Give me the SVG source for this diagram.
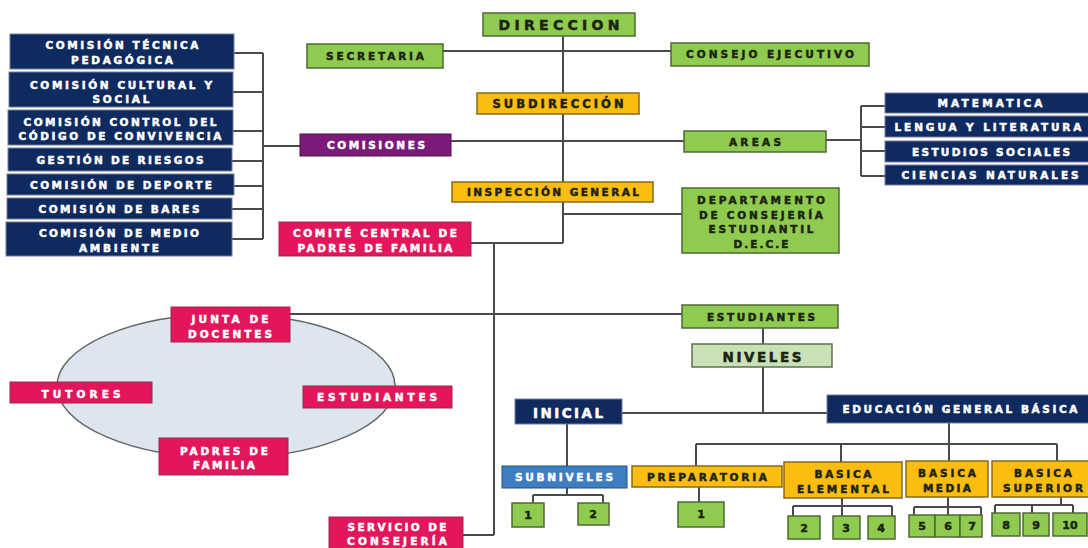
<svg xmlns="http://www.w3.org/2000/svg" width="1088" height="548" viewBox="0 0 1088 548">
<style>
text{font-family:"DejaVu Sans","Liberation Sans",sans-serif;font-weight:bold;text-anchor:middle;font-size:10.5px;stroke-width:0.5}
.w{fill:#ffffff;stroke:#ffffff}
.d{fill:#1c2410;stroke:#1c2410}
.n{fill:#0f2a5f;stroke:#6f7fa0;stroke-width:1}
.g{fill:#8fcb4f;stroke:#4d6a33;stroke-width:1.5}
.a{fill:#fbbd10;stroke:#8a6a1a;stroke-width:1.5}
.p{fill:#e3155b;stroke:#9a2a4a;stroke-width:1}
.pu{fill:#7c1a79;stroke:#4a1048;stroke-width:1}
.lg{fill:#c8e2b6;stroke:#5e7050;stroke-width:1.5}
.b{fill:#3d7ec2;stroke:#2a4f7a;stroke-width:1}
.c{fill:none;stroke:#4a4a4a;stroke-width:2}
.num{font-size:11px}
</style>
<g id="ellipse"><ellipse cx="226" cy="386" rx="169" ry="72" fill="#dde5ef" stroke="#666" stroke-width="1.5"/></g>
<g id="connectors" class="c">
<path d="M234,53H263M233,92H263M233,131H263M232,161H263M234,186H263M232,209H263M232,239H263M263,53V239M263,146H300"/>
<path d="M443,51H671"/>
<path d="M451,141H684"/>
<path d="M563,36V243M563,214H682M471,243H563M494,243V535M463,535H494"/>
<path d="M290,314H682"/>
<path d="M826,140H861M861,106V176M861,106H885M861,127H885M861,151H885M861,176H885"/>
<path d="M763,328V344M763,367V413M622,413H827"/>
<path d="M567,424V466M567,488V495M533,495H603M533,495V503M603,495V503"/>
<path d="M949,423V461M696,444H1057M696,444V466M841,444V462M1057,444V461"/>
<path d="M699,487V502"/>
<path d="M842,498V516M793,506H892M793,506V516M892,506V516"/>
<path d="M948,497V515M914,507H981M914,507V515M981,507V515"/>
<path d="M1061,497V505M995,505H1073M995,505V513M1032,505V513M1073,505V513"/>
</g>
<g id="com1"><rect class="n" x="10" y="34" width="224" height="35"/><text class="w" x="122" y="49" textLength="153">COMISIÓN TÉCNICA</text><text class="w" x="122" y="64" textLength="102">PEDAGÓGICA</text></g>
<g id="com2"><rect class="n" x="9" y="72" width="224" height="35"/><text class="w" x="121" y="89" textLength="182">COMISIÓN CULTURAL Y</text><text class="w" x="121" y="103" textLength="57">SOCIAL</text></g>
<g id="com3"><rect class="n" x="8" y="110" width="225" height="35"/><text class="w" x="120" y="126" textLength="193">COMISIÓN CONTROL DEL</text><text class="w" x="120" y="140" textLength="203">CÓDIGO DE CONVIVENCIA</text></g>
<g id="com4"><rect class="n" x="8" y="148" width="224" height="23"/><text class="w" x="120" y="164" textLength="167">GESTIÓN DE RIESGOS</text></g>
<g id="com5"><rect class="n" x="7" y="174" width="227" height="21"/><text class="w" x="121" y="189" textLength="182">COMISIÓN DE DEPORTE</text></g>
<g id="com6"><rect class="n" x="7" y="198" width="225" height="21"/><text class="w" x="119" y="213" textLength="161">COMISIÓN DE BARES</text></g>
<g id="com7"><rect class="n" x="6" y="222" width="226" height="34"/><text class="w" x="119" y="237" textLength="160">COMISIÓN DE MEDIO</text><text class="w" x="119" y="252" textLength="80">AMBIENTE</text></g>
<g id="secretaria"><rect class="g" x="307" y="44" width="136" height="24"/><text class="d" x="375" y="60" textLength="98">SECRETARIA</text></g>
<g id="comisiones"><rect class="pu" x="300" y="134" width="151" height="22"/><text class="w" x="376" y="149" textLength="98">COMISIONES</text></g>
<g id="comite"><rect class="p" x="279" y="222" width="192" height="34"/><text class="w" x="375" y="237" textLength="164">COMITÉ CENTRAL DE</text><text class="w" x="375" y="252" textLength="155">PADRES DE FAMILIA</text></g>
<g id="direccion"><rect class="g" x="483" y="13" width="152" height="23"/><text class="d" x="559" y="30" style="font-size:14px" textLength="121">DIRECCION</text></g>
<g id="consejo"><rect class="g" x="671" y="43" width="198" height="23"/><text class="d" x="770" y="58" textLength="168">CONSEJO EJECUTIVO</text></g>
<g id="subdireccion"><rect class="a" x="477" y="93" width="162" height="21"/><text class="d" x="558" y="108" style="font-size:11.5px" textLength="131">SUBDIRECCIÓN</text></g>
<g id="areas"><rect class="g" x="684" y="131" width="142" height="21"/><text class="d" x="755" y="146" textLength="52">AREAS</text></g>
<g id="inspeccion"><rect class="a" x="452" y="182" width="201" height="20"/><text class="d" x="553" y="196" textLength="172">INSPECCIÓN GENERAL</text></g>
<g id="dece"><rect class="g" x="682" y="188" width="157" height="65"/><text class="d" x="761" y="204" textLength="128">DEPARTAMENTO</text><text class="d" x="761" y="219" textLength="124">DE CONSEJERÍA</text><text class="d" x="761" y="233" textLength="105">ESTUDIANTIL</text><text class="d" x="761" y="248" textLength="55">D.E.C.E</text></g>
<g id="matematica"><rect class="n" x="885" y="93" width="205" height="20"/><text class="w" x="990" y="107" textLength="105">MATEMATICA</text></g>
<g id="lengua"><rect class="n" x="885" y="116" width="205" height="21"/><text class="w" x="988" y="131" textLength="187">LENGUA Y LITERATURA</text></g>
<g id="sociales"><rect class="n" x="885" y="141" width="205" height="21"/><text class="w" x="991" y="156" textLength="158">ESTUDIOS SOCIALES</text></g>
<g id="naturales"><rect class="n" x="885" y="165" width="205" height="20"/><text class="w" x="990" y="179" textLength="177">CIENCIAS NATURALES</text></g>
<g id="junta"><rect class="p" x="171" y="307" width="119" height="35"/><text class="w" x="230" y="323" textLength="77">JUNTA DE</text><text class="w" x="230" y="338" textLength="84">DOCENTES</text></g>
<g id="tutores"><rect class="p" x="10" y="382" width="142" height="21"/><text class="w" x="81" y="398" textLength="79">TUTORES</text></g>
<g id="estudiantes-p"><rect class="p" x="303" y="386" width="149" height="22"/><text class="w" x="377" y="401" textLength="120">ESTUDIANTES</text></g>
<g id="padres"><rect class="p" x="159" y="438" width="129" height="37"/><text class="w" x="224" y="455" textLength="88">PADRES DE</text><text class="w" x="224" y="469" textLength="62">FAMILIA</text></g>
<g id="servicio"><rect class="p" x="329" y="517" width="134" height="40"/><text class="w" x="397" y="531" textLength="99">SERVICIO DE</text><text class="w" x="397" y="545" textLength="100">CONSEJERÍA</text></g>
<g id="estudiantes-g"><rect class="g" x="682" y="305" width="156" height="23"/><text class="d" x="761" y="321" textLength="108">ESTUDIANTES</text></g>
<g id="niveles"><rect class="lg" x="692" y="344" width="140" height="23"/><text class="d" x="762" y="362" style="font-size:13.5px" textLength="79">NIVELES</text></g>
<g id="inicial"><rect class="n" x="515" y="399" width="107" height="25"/><text class="w" x="568" y="418" style="font-size:13.5px" textLength="70">INICIAL</text></g>
<g id="egb"><rect class="n" x="827" y="395" width="263" height="28"/><text class="w" x="960" y="413" textLength="235">EDUCACIÓN GENERAL BÁSICA</text></g>
<g id="subniveles"><rect class="b" x="502" y="466" width="125" height="22"/><text class="w" x="564" y="481" textLength="98">SUBNIVELES</text></g>
<g id="preparatoria"><rect class="a" x="632" y="466" width="150" height="21"/><text class="d" x="707" y="481" textLength="120">PREPARATORIA</text></g>
<g id="elemental"><rect class="a" x="784" y="462" width="118" height="36"/><text class="d" x="843" y="478" textLength="57">BASICA</text><text class="d" x="843" y="493" textLength="92">ELEMENTAL</text></g>
<g id="media"><rect class="a" x="906" y="461" width="82" height="36"/><text class="d" x="947" y="477" textLength="58">BASICA</text><text class="d" x="947" y="492" textLength="48">MEDIA</text></g>
<g id="superior"><rect class="a" x="992" y="461" width="98" height="36"/><text class="d" x="1043" y="477" textLength="58">BASICA</text><text class="d" x="1043" y="492" textLength="80">SUPERIOR</text></g>
<g id="ini1"><rect class="g" x="512" y="503" width="32" height="24"/><text class="d num" x="528" y="519">1</text></g>
<g id="ini2"><rect class="g" x="578" y="503" width="31" height="22"/><text class="d num" x="593" y="518">2</text></g>
<g id="prep1"><rect class="g" x="678" y="502" width="46" height="25"/><text class="d num" x="701" y="518">1</text></g>
<g id="n2"><rect class="g" x="788" y="516" width="32" height="23"/><text class="d num" x="804" y="532">2</text></g>
<g id="n3"><rect class="g" x="833" y="516" width="27" height="23"/><text class="d num" x="846" y="532">3</text></g>
<g id="n4"><rect class="g" x="868" y="516" width="27" height="23"/><text class="d num" x="881" y="532">4</text></g>
<g id="n5"><rect class="g" x="909" y="515" width="26" height="22"/><text class="d num" x="922" y="530">5</text></g>
<g id="n6"><rect class="g" x="935" y="515" width="25" height="22"/><text class="d num" x="948" y="530">6</text></g>
<g id="n7"><rect class="g" x="960" y="515" width="22" height="22"/><text class="d num" x="972" y="530">7</text></g>
<g id="n8"><rect class="g" x="992" y="513" width="28" height="23"/><text class="d num" x="1006" y="529">8</text></g>
<g id="n9"><rect class="g" x="1023" y="513" width="26" height="23"/><text class="d num" x="1036" y="529">9</text></g>
<g id="n10"><rect class="g" x="1053" y="513" width="34" height="23"/><text class="d num" x="1070" y="529">10</text></g>
</svg>
